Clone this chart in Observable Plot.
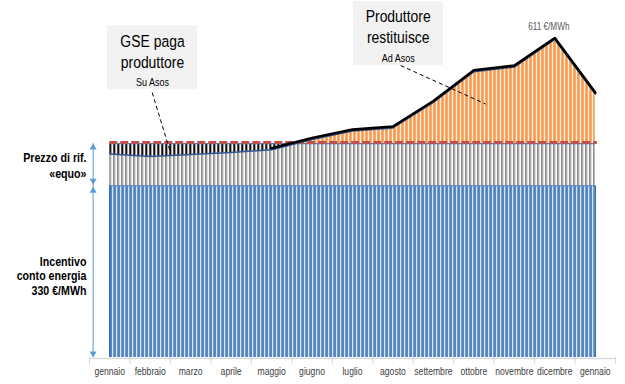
<!DOCTYPE html>
<html><head><meta charset="utf-8">
<script src="https://cdn.jsdelivr.net/npm/d3@7"></script>
<script src="https://cdn.jsdelivr.net/npm/@observablehq/plot@0.6"></script>
<style>body{margin:0;background:#fff}</style>
</head><body><div id="chart"></div>
<script>
const mesi = ["gennaio","febbraio","marzo","aprile","maggio","giugno","luglio","agosto","settembre","ottobre","novembre","dicembre","gennaio"];
const prezzo = [391, 386, 390, 394, 399, 419, 435, 441, 490, 549, 558, 611, 506];
const incentivo = 330;
const riferimento = 411;
const etichettaPicco = "611 €/MWh";
const testoSinistra1 = "Prezzo di rif.\n«equo»";
const testoSinistra2 = "Incentivo\nconto energia\n330 €/MWh";

const dati = mesi.map((mese, i) => ({mese, x: i + 0.5, prezzo: prezzo[i]}));
const primo = dati[0], ultimo = dati[dati.length - 1];
const font = "'Liberation Sans',Arial,sans-serif";

// annotation layout (data space)
const box1 = {x1: 0.445, x2: 2.669, y1: 515, y2: 638, cx: 1.557, cy: 576};
const box2 = {x1: 6.525, x2: 8.749, y1: 561, y2: 684, cx: 7.63, cy: 622};
const xFreccia = 0.09;

const chart = Plot.plot({
  width: 625, height: 384,
  marginLeft: 89, marginRight: 10, marginTop: 39, marginBottom: 27,
  x: {domain: [0, 13], axis: null},
  y: {domain: [0, 611], axis: null},
  style: {fontFamily: font, background: "white", overflow: "visible"},
  marks: [
    Plot.rect([box1, box2], {x1: "x1", x2: "x2", y1: "y1", y2: "y2", fill: "#f2f2f2"}),
    Plot.areaY(dati, {x: "x", y1: () => 0, y2: () => incentivo, fill: "url(#pBlu)"}),
    Plot.areaY(dati, {x: "x", y1: () => incentivo, y2: () => riferimento, fill: "url(#pGrigio)"}),
    Plot.areaY(dati, {x: "x", y1: () => riferimento, y2: "prezzo", fill: "url(#pDiff)"}),
    Plot.ruleX([primo, ultimo], {x: "x", y1: () => 0, y2: () => incentivo, stroke: "#2e75b6", strokeWidth: 1.5}),
    Plot.ruleY([incentivo], {x1: primo.x, x2: ultimo.x, stroke: "#4f81bd", strokeWidth: 1.2}),
    Plot.ruleY([riferimento], {x1: primo.x, x2: ultimo.x, stroke: "#4f81bd", strokeWidth: 1.3}),
    Plot.ruleY([riferimento], {x1: primo.x, x2: ultimo.x + 0.05, stroke: "#c0504d", strokeWidth: 3, strokeDasharray: "8,3", dy: -1}),
    Plot.line(dati, {x: "x", y: "prezzo", stroke: "#2f5592", strokeWidth: 1.5}),
    Plot.line(dati.slice(4), {x: "x", y: "prezzo", stroke: "#000", strokeWidth: 2.6, dy: -1.5}),
    Plot.link([{x1: 1.55, y1: 509, x2: 2.0, y2: 394}], {x1: "x1", y1: "y1", x2: "x2", y2: "y2", stroke: "#000", strokeWidth: 1, strokeDasharray: "4,3"}),
    Plot.link([{x1: 7.69, y1: 561, x2: 9.79, y2: 487}], {x1: "x1", y1: "y1", x2: "x2", y2: "y2", stroke: "#000", strokeWidth: 1, strokeDasharray: "4,3"}),
    Plot.text(["GSE paga"], {x: box1.cx, y: box1.cy, text: d => d, dy: -16, fontSize: 17, fill: "#000"}),
    Plot.text(["produttore"], {x: box1.cx, y: box1.cy, text: d => d, dy: 5, fontSize: 17, fill: "#000"}),
    Plot.text(["Su Asos"], {x: box1.cx, y: box1.cy, text: d => d, dy: 25, fontSize: 11, fill: "#000"}),
    Plot.text(["Produttore"], {x: box2.cx, y: box2.cy, text: d => d, dy: -17, fontSize: 17, fill: "#000"}),
    Plot.text(["restituisce"], {x: box2.cx, y: box2.cy, text: d => d, dy: 4, fontSize: 17, fill: "#000"}),
    Plot.text(["Ad Asos"], {x: box2.cx, y: box2.cy, text: d => d, dy: 25, fontSize: 11, fill: "#000"}),
    Plot.text([dati[11]], {x: "x", y: "prezzo", text: () => etichettaPicco, dy: -13, dx: -6, fontSize: 10, fill: "#595959"}),
    Plot.ruleX([xFreccia], {y1: () => incentivo, y2: () => riferimento, stroke: "#5b9bd5", strokeWidth: 1}),
    Plot.ruleX([xFreccia], {y1: () => 0, y2: () => incentivo, stroke: "#5b9bd5", strokeWidth: 1}),
    Plot.dot([riferimento], {x: xFreccia, y: d => d, symbol: "triangle", r: 2.6, fill: "#5b9bd5", stroke: null, dy: 4}),
    Plot.dot([incentivo], {x: xFreccia, y: d => d, symbol: "triangle", r: 2.6, fill: "#5b9bd5", stroke: null, rotate: 180, dy: -5}),
    Plot.dot([incentivo], {x: xFreccia, y: d => d, symbol: "triangle", r: 2.6, fill: "#5b9bd5", stroke: null, dy: 5}),
    Plot.dot([0], {x: xFreccia, y: d => d, symbol: "triangle", r: 2.6, fill: "#5b9bd5", stroke: null, rotate: 180, dy: -4}),
    Plot.text([testoSinistra1], {x: 0, y: (incentivo + riferimento) / 2, text: d => d, textAnchor: "end", dx: -3, fontSize: 13, fontWeight: "bold", lineHeight: 1.23, fill: "#000"}),
    Plot.text([testoSinistra2], {x: 0, y: incentivo / 2, text: d => d, textAnchor: "end", dx: -3, dy: 4, fontSize: 13, fontWeight: "bold", lineHeight: 1.13, fill: "#000"}),
    Plot.ruleY([0], {x1: 0, x2: 13, dy: 1, stroke: "#d9d9d9", strokeWidth: 1.5}),
    Plot.axisX(d3.range(14), {tickSize: 7, tickFormat: () => "", stroke: "#d9d9d9", strokeWidth: 1}),
    Plot.text(dati, {x: "x", y: () => 0, text: "mese", dy: 14, fontSize: 10.5, fill: "#404040"})
  ]
});

// narrow type (Arial Narrow look): squeeze every text horizontally around its anchor
chart.querySelectorAll("text").forEach(t => {
  const tr = t.getAttribute("transform");
  if (tr) t.setAttribute("transform", tr + " scale(0.82,1)");
  else {
    const x = +(t.getAttribute("x") || 0), y = +(t.getAttribute("y") || 0);
    t.removeAttribute("x"); t.removeAttribute("y");
    t.setAttribute("transform", `translate(${x},${y}) scale(0.82,1)`);
  }
});

// striped patterns (like thin bars)
const ns = "http://www.w3.org/2000/svg";
const xs = chart.scale("x"), ys = chart.scale("y");
const x0 = xs.apply(primo.x);
const yRef = ys.apply(riferimento);
const defs = document.createElementNS(ns, "defs");
function pattern(id, h, rects) {
  const p = document.createElementNS(ns, "pattern");
  p.setAttribute("id", id);
  p.setAttribute("patternUnits", "userSpaceOnUse");
  p.setAttribute("x", x0); p.setAttribute("y", 0);
  p.setAttribute("width", 4); p.setAttribute("height", h);
  for (const [x, y, w, hh, c] of rects) {
    const r = document.createElementNS(ns, "rect");
    r.setAttribute("x", x); r.setAttribute("y", y);
    r.setAttribute("width", w); r.setAttribute("height", hh);
    r.setAttribute("fill", c);
    p.appendChild(r);
  }
  defs.appendChild(p);
}
pattern("pBlu", 10, [[0,0,4,10,"#fff"],[0,0,2.9,10,"#4f81bd"]]);
pattern("pGrigio", 10, [[0,0,4,10,"#fff"],[0,0,1,10,"#6b6b6b"],[1,0,1.3,10,"#bdbdbd"]]);
pattern("pDiff", 384, [[0,0,4,384,"#fff"],[0,0,2.7,yRef,"#f79646"],[0,yRef,2.2,384 - yRef,"#111"]]);
chart.insertBefore(defs, chart.firstChild);

document.getElementById("chart").appendChild(chart);
</script>
</body></html>
